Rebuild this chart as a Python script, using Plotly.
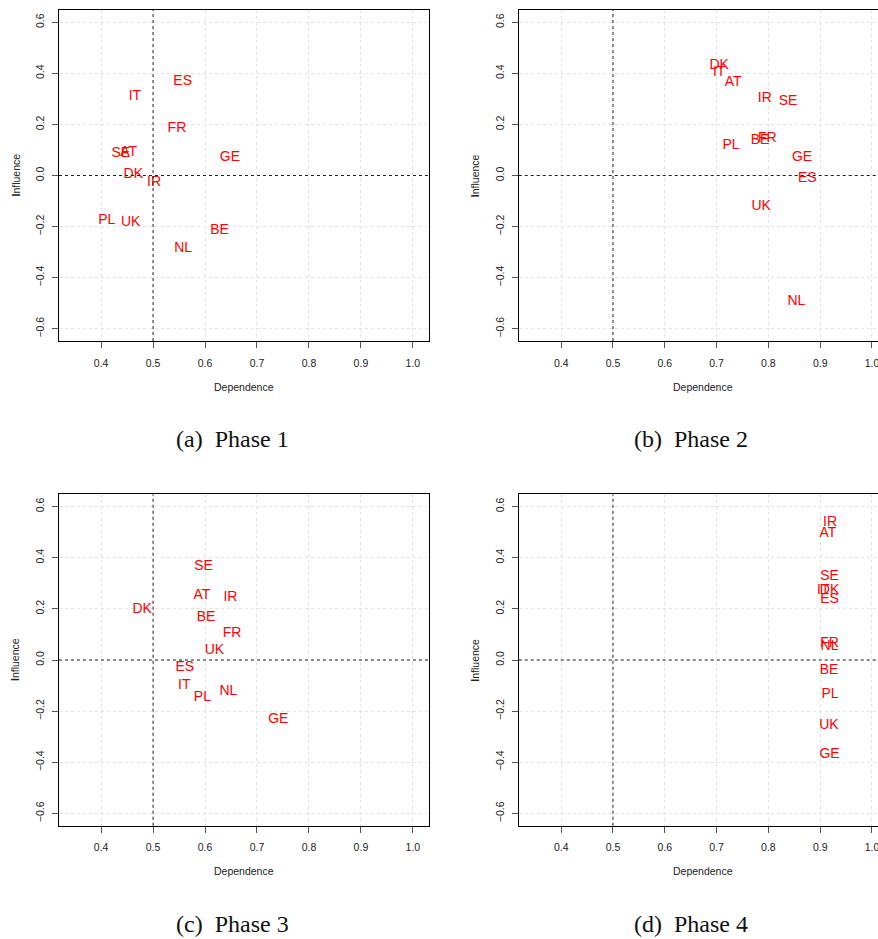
import plotly.graph_objects as go

countries = ["AT", "BE", "DK", "ES", "FR", "GE", "IR", "IT", "NL", "PL", "SE", "UK"]

dep_p1 = [0.453, 0.628, 0.462, 0.557, 0.546, 0.648, 0.502, 0.465, 0.558, 0.411, 0.438, 0.457]
inf_p1 = [0.091, -0.216, 0.002, 0.369, 0.183, 0.070, -0.027, 0.309, -0.287, -0.175, 0.087, -0.185]

dep_p2 = [0.732, 0.784, 0.705, 0.875, 0.798, 0.865, 0.793, 0.705, 0.854, 0.728, 0.838, 0.786]
inf_p2 = [0.365, 0.137, 0.430, -0.012, 0.143, 0.069, 0.300, 0.403, -0.495, 0.117, 0.289, -0.121]

dep_p3 = [0.594, 0.602, 0.479, 0.561, 0.652, 0.741, 0.649, 0.560, 0.645, 0.595, 0.597, 0.618]
inf_p3 = [0.254, 0.168, 0.198, -0.029, 0.103, -0.233, 0.245, -0.099, -0.123, -0.145, 0.364, 0.038]

dep_p4 = [0.915, 0.917, 0.918, 0.918, 0.918, 0.918, 0.919, 0.906, 0.918, 0.919, 0.918, 0.917]
inf_p4 = [0.496, -0.042, 0.272, 0.236, 0.064, -0.370, 0.538, 0.272, 0.053, -0.136, 0.327, -0.257]

captions = ["(a)&nbsp;&nbsp;Phase 1", "(b)&nbsp;&nbsp;Phase 2", "(c)&nbsp;&nbsp;Phase 3", "(d)&nbsp;&nbsp;Phase 4"]
x_ticks = [0.4, 0.5, 0.6, 0.7, 0.8, 0.9, 1.0]
y_ticks = [-0.6, -0.4, -0.2, 0.0, 0.2, 0.4, 0.6]

W, H = 878, 939
phases = [(dep_p1, inf_p1), (dep_p2, inf_p2), (dep_p3, inf_p3), (dep_p4, inf_p4)]

# panel geometry (pixels): left, right, top, bottom, x-range
panels = [
    (59.0, 429.0, 10.0, 341.0, [0.319, 1.031]),
    (518.7, 878.0, 10.0, 341.0, [0.318, 1.0116]),
    (59.0, 429.0, 494.3, 825.7, [0.319, 1.031]),
    (518.7, 878.0, 494.3, 825.7, [0.318, 1.0116]),
]
yr = [-0.648, 0.648]

fig = go.Figure()
annotations = []
shapes = []
for i, ((dep, inf), (l, r, t, b, xr)) in enumerate(zip(phases, panels)):
    n = i + 1
    xa = "x" if n == 1 else f"x{n}"
    ya = "y" if n == 1 else f"y{n}"
    fig.add_trace(go.Scatter(
        x=dep, y=inf, text=countries, mode="text",
        textposition="middle center",
        textfont=dict(family="Liberation Sans, Arial, sans-serif", size=14, color="#FF0000"),
        xaxis=xa, yaxis=ya, showlegend=False, hoverinfo="text"))
    clipped = r >= W
    axkw = dict(
        showline=True, linecolor="black", linewidth=1,
        ticks="outside", ticklen=6, tickcolor="#555555", tickwidth=1,
        showgrid=True, gridcolor="#E3E3E3", griddash="dot", gridwidth=1,
        zeroline=False, ticklabeloverflow="allow",
        tickfont=dict(family="Liberation Sans, Arial, sans-serif", size=10.5, color="#222222"),
    )
    xkey = "xaxis" if n == 1 else f"xaxis{n}"
    ykey = "yaxis" if n == 1 else f"yaxis{n}"
    fig.update_layout(**{
        xkey: dict(domain=[l / W, min(r / W, 1.0)], range=xr, anchor=ya,
                   tickvals=x_ticks, ticktext=[f"{v:.1f}" for v in x_ticks],
                   mirror=True, ticklabelstandoff=6, **axkw),
        ykey: dict(domain=[1 - b / H, 1 - t / H], range=yr, anchor=xa,
                   tickvals=y_ticks, ticktext=[f"{v:.1f}".replace("-", "\u2212") for v in y_ticks],
                   tickangle=-90, mirror=(not clipped), ticklabelstandoff=4, **axkw),
    })
    # reference lines
    shapes.append(dict(type="line", xref=xa, yref=f"{ya} domain", x0=0.5, x1=0.5, y0=0, y1=1,
                       line=dict(color="#222222", width=1, dash="3px,3px")))
    shapes.append(dict(type="line", xref=f"{xa} domain", yref=ya, x0=0, x1=1, y0=0, y1=0,
                       line=dict(color="#222222", width=1, dash="3px,3px")))
    cx = (l + (r if not clipped else 888.0)) / 2
    annotations.append(dict(text="Dependence", xref="paper", yref="paper",
                            x=cx / W, y=1 - (b + 45.5) / H, showarrow=False,
                            xanchor="center", yanchor="middle",
                            font=dict(family="Liberation Sans, Arial, sans-serif", size=10.5, color="#222222")))
    annotations.append(dict(text="<b>I</b>nfluence", xref="paper", yref="paper",
                            x=(l - 44) / W, y=1 - ((t + b) / 2) / H, showarrow=False, textangle=-90,
                            xanchor="center", yanchor="middle",
                            font=dict(family="Liberation Sans, Arial, sans-serif", size=10.5, color="#222222")))
    annotations.append(dict(text=captions[i], xref="paper", yref="paper",
                            x=(cx - 12) / W, y=1 - (b + 98) / H, showarrow=False,
                            xanchor="center", yanchor="middle",
                            font=dict(family="Liberation Serif, Times New Roman, serif", size=24, color="#111111")))

fig.update_layout(width=W, height=H, margin=dict(l=0, r=0, t=0, b=0),
                  paper_bgcolor="white", plot_bgcolor="white",
                  annotations=annotations, shapes=shapes)
fig.write_html("out.html")
